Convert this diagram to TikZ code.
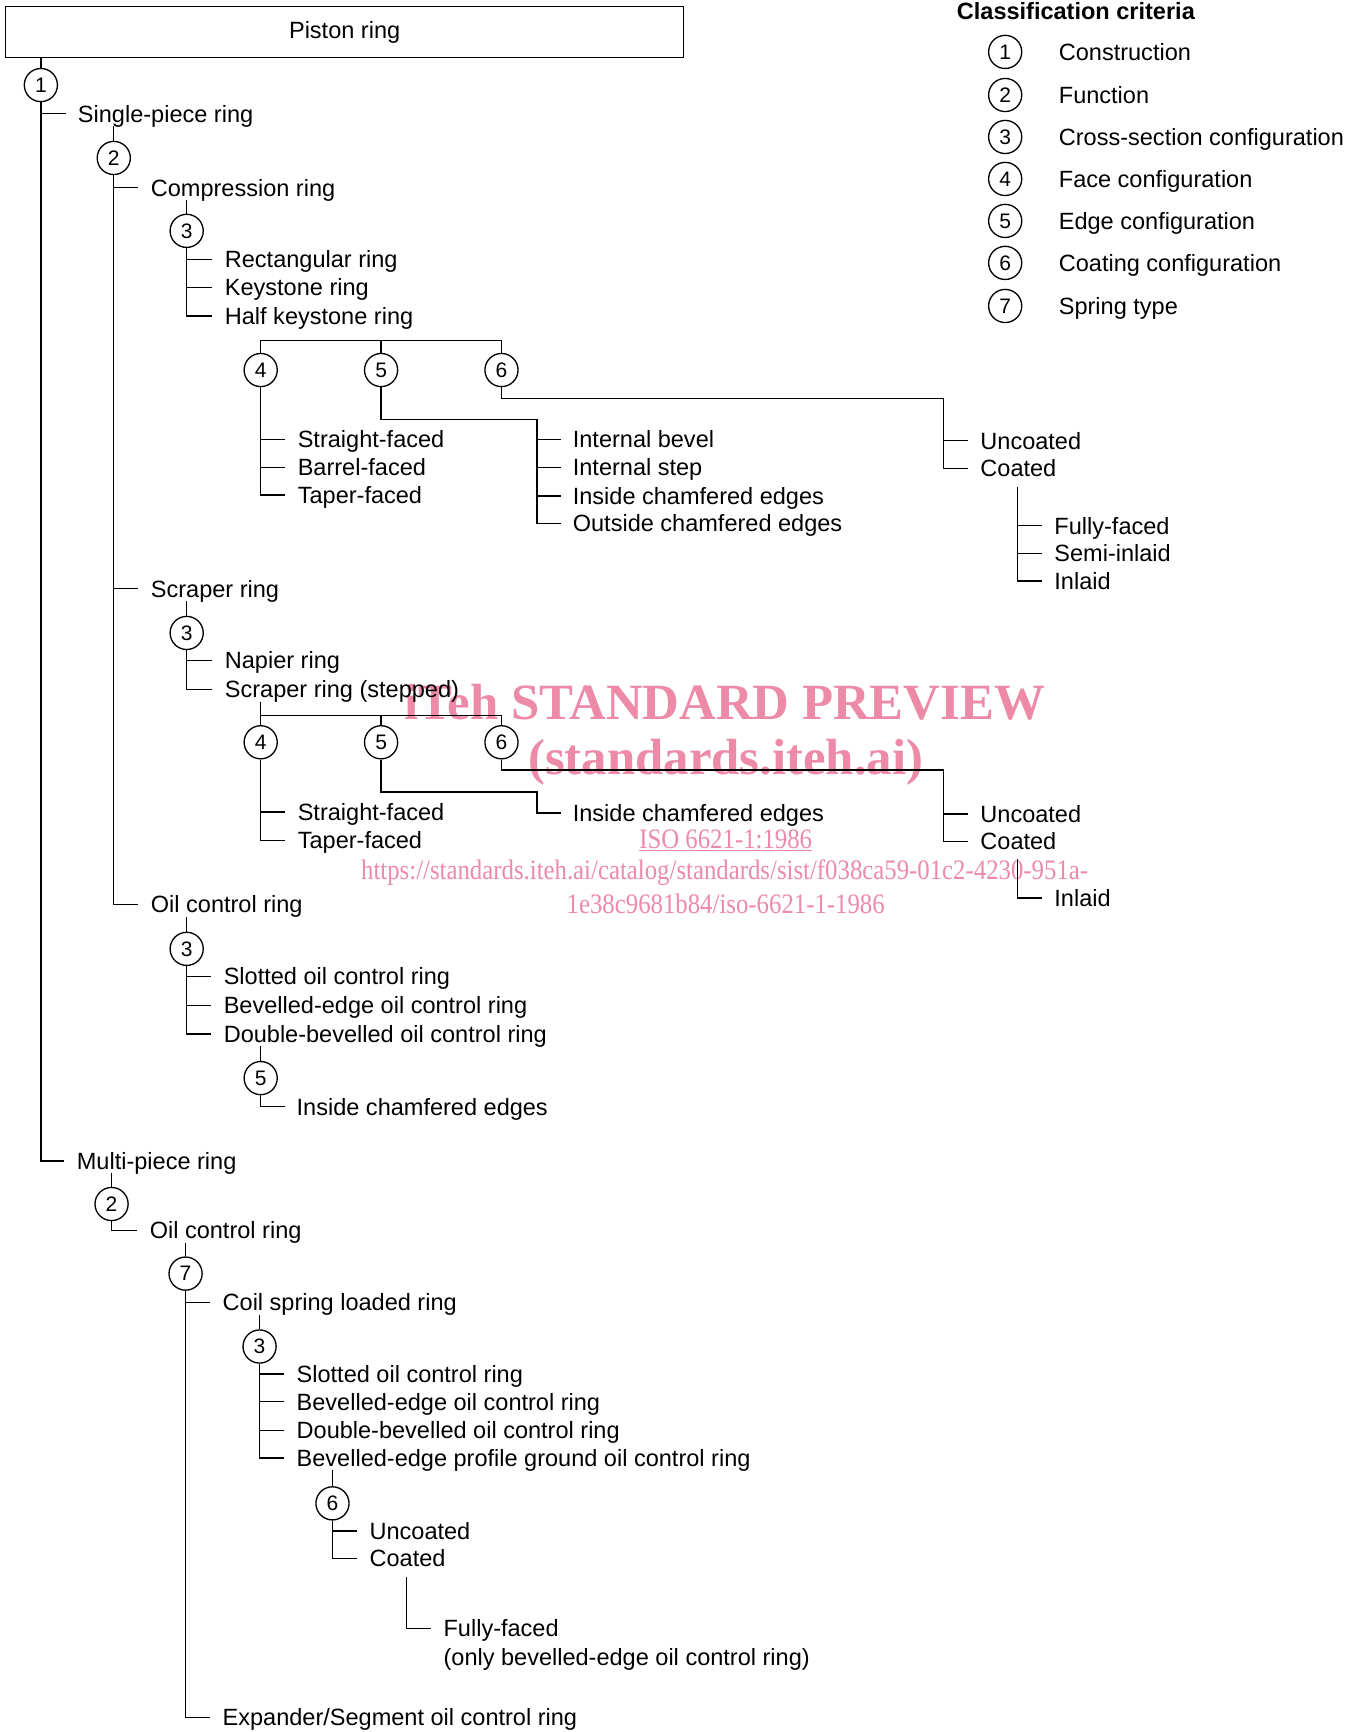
\documentclass[tikz,border=0pt]{standalone}
\usepackage{fontspec}
\setmainfont{Liberation Sans}
\newfontfamily\wmfont{Liberation Serif}
\definecolor{wmpink}{RGB}{236,138,168}
\begin{document}
\begin{tikzpicture}[x=1pt,y=-1pt,line width=1.2pt,
  lbl/.style={anchor=west,inner sep=0pt,text height=15pt,text depth=0pt,font=\fontsize{21.3}{25}\selectfont},
  crit/.style={circle,draw,line width=1.2pt,minimum size=30pt,inner sep=0pt,font=\fontsize{19}{22}\selectfont},
  wm/.style={text=wmpink,inner sep=0pt},
  wms/.style={wm,font=\wmfont\fontsize{25.5}{28}\selectfont}]
\fill[white] (0,0) rectangle (1226,1568);
\useasboundingbox (0,0) rectangle (1226,1568);

% watermark (background)
\node[wm,font=\wmfont\bfseries\fontsize{46}{50}\selectfont] (w1) at (656,636) {iTeh STANDARD PREVIEW};
\node[wm,font=\wmfont\bfseries\fontsize{46}{50}\selectfont] (w2) at (657,690) {(standards.iteh.ai)};
\node[wms] (w3) at (657,761) {\scalebox{0.88}[1]{\underline{ISO 6621-1:1986}}};
\node[wms] (w4) at (656,790) {\scalebox{0.88}[1]{https://standards.iteh.ai/catalog/standards/sist/f038ca59-01c2-4230-951a-}};
\node[wms] (w5) at (657,818) {\scalebox{0.88}[1]{1e38c9681b84/iso-6621-1-1986}};

% top box
\node[draw,line width=1.2pt,minimum width=614pt,minimum height=46pt,inner sep=0pt,font=\fontsize{21.3}{25}\selectfont] (box) at (312,29) {Piston ring};

% legend
\node[inner sep=0pt,font=\bfseries\fontsize{21.3}{25}\selectfont] (lt) at (974,10) {Classification criteria};
\foreach \n/\yy/\t in {1/47/Construction,2/86/Function,3/124/Cross-section configuration,4/162/Face configuration,5/200/Edge configuration,6/238/Coating configuration,7/277/Spring type}{
  \node[crit] (l\n) at (910,\yy) {\n};
  \node[lbl] (lt\n) at (958,\yy) {\t};
}

% level 1
\node[crit] (c1) at (37,77) {1};
\node[lbl] (sp) at (70,103) {Single-piece ring};
\node[lbl] (mp) at (69,1051) {Multi-piece ring};
\draw (box.south -| c1) -- (c1.north);
\draw (c1.south) |- ([xshift=-10pt]sp.west);
\draw (c1.south) |- ([xshift=-11pt]mp.west);

% single piece -> function
\node[crit] (c2) at (103,143) {2};
\node[lbl] (cr) at (136,170) {Compression ring};
\node[lbl] (sr) at (136,533) {Scraper ring};
\node[lbl] (oc) at (136,819) {Oil control ring};
\draw ([yshift=-3pt]c2.north |- sp.south) -- (c2.north);
\draw (c2.south) |- ([xshift=-11pt]cr.west);
\draw (c2.south) |- ([xshift=-11pt]sr.west);
\draw (c2.south) |- ([xshift=-11pt]oc.west);

% compression ring
\node[crit] (c3a) at (169,209) {3};
\node[lbl] (rr) at (203,235) {Rectangular ring};
\node[lbl] (kr) at (203,260) {Keystone ring};
\node[lbl] (hk) at (203,286) {Half keystone ring};
\draw ([yshift=-3pt]c3a.north |- cr.south) -- (c3a.north);
\draw (c3a.south) |- ([xshift=-11pt]rr.west);
\draw (c3a.south) |- ([xshift=-11pt]kr.west);
\draw (c3a.south) |- ([xshift=-11pt]hk.west);

\node[crit] (c4a) at (236,335) {4};
\node[crit] (c5a) at (345,335) {5};
\node[crit] (c6a) at (454,335) {6};
\coordinate (bara) at (345,308);
\draw (c4a.north) |- (bara) -| (c6a.north);
\draw (bara) -- (c5a.north);

\node[lbl] (sf1) at (269,398) {Straight-faced};
\node[lbl] (bf1) at (269,423) {Barrel-faced};
\node[lbl] (tf1) at (269,448) {Taper-faced};
\draw (c4a.south) |- ([xshift=-11pt]sf1.west);
\draw (c4a.south) |- ([xshift=-11pt]bf1.west);
\draw (c4a.south) |- ([xshift=-11pt]tf1.west);

\node[lbl] (ib) at (518,398) {Internal bevel};
\node[lbl] (is) at (518,423) {Internal step};
\node[lbl] (ic1) at (518,449) {Inside chamfered edges};
\node[lbl] (oce) at (518,474) {Outside chamfered edges};
\coordinate (k5a) at (486,380);
\draw (c5a.south) |- (k5a) |- ([xshift=-10pt]ib.west);
\draw (k5a) |- ([xshift=-10pt]is.west);
\draw (k5a) |- ([xshift=-10pt]ic1.west);
\draw (k5a) |- ([xshift=-10pt]oce.west);

\node[lbl] (uc1) at (887,399) {Uncoated};
\node[lbl] (co1) at (887,424) {Coated};
\coordinate (k6a) at (854,361);
\draw (c6a.south) |- (k6a) |- ([xshift=-11pt]uc1.west);
\draw (k6a) |- ([xshift=-11pt]co1.west);

\node[lbl] (ff1) at (954,476) {Fully-faced};
\node[lbl] (si1) at (954,501) {Semi-inlaid};
\node[lbl] (in1) at (954,526) {Inlaid};
\coordinate (k7a) at (921,441);
\draw (k7a) |- ([xshift=-11pt]ff1.west);
\draw (k7a) |- ([xshift=-11pt]si1.west);
\draw (k7a) |- ([xshift=-11pt]in1.west);

% scraper ring
\node[crit] (c3b) at (169,573) {3};
\node[lbl] (np) at (203,598) {Napier ring};
\node[lbl] (srs) at (203,624) {Scraper ring (stepped)};
\draw ([yshift=-3pt]c3b.north |- sr.south) -- (c3b.north);
\draw (c3b.south) |- ([xshift=-11pt]np.west);
\draw (c3b.south) |- ([xshift=-11pt]srs.west);

\node[crit] (c4b) at (236,672) {4};
\node[crit] (c5b) at (345,672) {5};
\node[crit] (c6b) at (454,672) {6};
\coordinate (barb) at (345,648);
\draw ([yshift=-3pt]c4b.north |- srs.south) -- (c4b.north);
\draw (c4b.north) |- (barb) -| (c6b.north);
\draw (barb) -- (c5b.north);

\node[lbl] (sf2) at (269,735) {Straight-faced};
\node[lbl] (tf2) at (269,761) {Taper-faced};
\draw (c4b.south) |- ([xshift=-11pt]sf2.west);
\draw (c4b.south) |- ([xshift=-11pt]tf2.west);

\node[lbl] (ic2) at (518,736) {Inside chamfered edges};
\coordinate (k5b) at (486,717);
\draw (c5b.south) |- (k5b) |- ([xshift=-10pt]ic2.west);

\node[lbl] (uc2) at (887,737) {Uncoated};
\node[lbl] (co2) at (887,762) {Coated};
\coordinate (k6b) at (854,697);
\draw (c6b.south) |- (k6b) |- ([xshift=-11pt]uc2.west);
\draw (k6b) |- ([xshift=-11pt]co2.west);

\node[lbl] (in2) at (954,813) {Inlaid};
\coordinate (k7b) at (921,778);
\draw (k7b) |- ([xshift=-11pt]in2.west);

% oil control ring (single piece)
\node[crit] (c3c) at (169,859) {3};
\node[lbl] (so1) at (202,884) {Slotted oil control ring};
\node[lbl] (be1) at (202,910) {Bevelled-edge oil control ring};
\node[lbl] (db1) at (202,936) {Double-bevelled oil control ring};
\draw ([yshift=-3pt]c3c.north |- oc.south) -- (c3c.north);
\draw (c3c.south) |- ([xshift=-11pt]so1.west);
\draw (c3c.south) |- ([xshift=-11pt]be1.west);
\draw (c3c.south) |- ([xshift=-11pt]db1.west);

\node[crit] (c5c) at (236,976) {5};
\node[lbl] (ic3) at (268,1002) {Inside chamfered edges};
\draw ([yshift=-3pt]c5c.north |- db1.south) -- (c5c.north);
\draw (c5c.south) |- ([xshift=-10pt]ic3.west);

% multi-piece ring
\node[crit] (c2b) at (101,1090) {2};
\node[lbl] (oc2) at (135,1114) {Oil control ring};
\draw ([yshift=-3pt]c2b.north |- mp.south) -- (c2b.north);
\draw (c2b.south) |- ([xshift=-11pt]oc2.west);

\node[crit] (c7) at (168,1153) {7};
\node[lbl] (cs) at (201,1179) {Coil spring loaded ring};
\node[lbl] (ex) at (201,1555) {Expander/Segment oil control ring};
\draw ([yshift=-3pt]c7.north |- oc2.south) -- (c7.north);
\draw (c7.south) |- ([xshift=-11pt]cs.west);
\draw (c7.south) |- ([xshift=-11pt]ex.west);

\node[crit] (c3d) at (235,1219) {3};
\node[lbl] (so2) at (268,1244) {Slotted oil control ring};
\node[lbl] (be2) at (268,1269) {Bevelled-edge oil control ring};
\node[lbl] (db2) at (268,1295) {Double-bevelled oil control ring};
\node[lbl] (bp) at (268,1320) {Bevelled-edge profile ground oil control ring};
\draw ([yshift=-3pt]c3d.north |- cs.south) -- (c3d.north);
\draw (c3d.south) |- ([xshift=-11pt]so2.west);
\draw (c3d.south) |- ([xshift=-11pt]be2.west);
\draw (c3d.south) |- ([xshift=-11pt]db2.west);
\draw (c3d.south) |- ([xshift=-11pt]bp.west);

\node[crit] (c6c) at (301,1361) {6};
\node[lbl] (uc3) at (334,1386) {Uncoated};
\node[lbl] (co3) at (334,1411) {Coated};
\draw ([yshift=-3pt]c6c.north |- bp.south) -- (c6c.north);
\draw (c6c.south) |- ([xshift=-11pt]uc3.west);
\draw (c6c.south) |- ([xshift=-11pt]co3.west);

\node[lbl] (ff3) at (401,1474) {Fully-faced};
\node[lbl] (only) at (401,1500) {(only bevelled-edge oil control ring)};
\coordinate (k7c) at (368,1428);
\draw (k7c) |- ([xshift=-11pt]ff3.west);
\end{tikzpicture}
\end{document}
